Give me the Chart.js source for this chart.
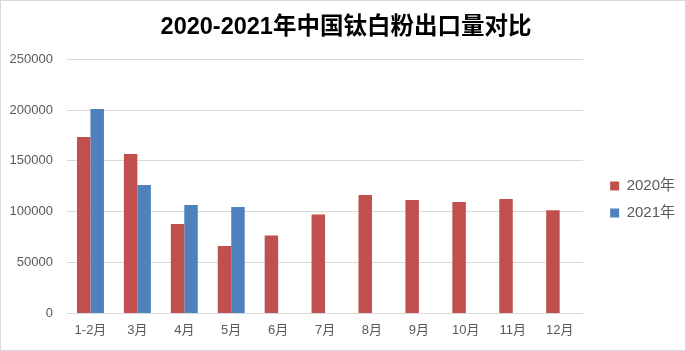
<!DOCTYPE html>
<html>
<head>
<meta charset="utf-8">
<script src="https://cdn.jsdelivr.net/npm/chart.js@4"></script>
<style>
  html, body { margin: 0; padding: 0; background: #fff; }
  #wrap { width: 686px; height: 351px; box-sizing: border-box; border: 1px solid #d9d9d9; }
  canvas { display: block; }
</style>
</head>
<body>
<div id="wrap"><canvas id="exportChart" width="684" height="349"></canvas></div>
<script>
// 2020-2021 钛白粉出口量 (吨)
const months = ["1-2月", "3月", "4月", "5月", "6月", "7月", "8月", "9月", "10月", "11月", "12月"];
const export2020 = [173500, 156800, 87900, 66200, 76600, 97300, 116400, 111500, 109500, 112500, 101500];
const export2021 = [201000, 126300, 106600, 104600, null, null, null, null, null, null, null];
const yTicks = [0, 50000, 100000, 150000, 200000, 250000];

const fontFamily = "'Liberation Sans', 'Noto Sans CJK SC', sans-serif";
const textColor = "#595959";

const ctx = document.getElementById("exportChart").getContext("2d");

new Chart(ctx, {
  type: "bar",
  data: {
    labels: months,
    datasets: [
      {
        label: "2020年",
        data: export2020,
        backgroundColor: "#c0504d",
        categoryPercentage: 0.575,
        barPercentage: 1,
      },
      {
        label: "2021年",
        data: export2021,
        backgroundColor: "#4f81bd",
        categoryPercentage: 0.575,
        barPercentage: 1,
      },
    ],
  },
  options: {
    responsive: false,
    animation: false,
    layout: {
      padding: { left: 6, right: 0, top: 4, bottom: 11 },
    },
    plugins: {
      title: {
        display: true,
        text: "2020-2021年中国钛白粉出口量对比",
        color: "#000",
        font: { family: fontFamily, size: 23.5, weight: "bold" },
        padding: { top: 8, bottom: 18 },
      },
      legend: {
        position: "right",
        title: {
          // empty title just pushes the legend items down a bit
          display: true,
          text: " ",
          font: { size: 1 },
          padding: { top: 54, bottom: 0 },
        },
        labels: {
          color: textColor,
          font: { family: fontFamily, size: 15 },
          boxWidth: 9,
          boxHeight: 9,
          padding: 12,
        },
      },
      tooltip: { enabled: false },
    },
    scales: {
      x: {
        grid: { display: false },
        border: { display: false },
        ticks: {
          color: textColor,
          font: { family: fontFamily, size: 13 },
          padding: 1,
          maxRotation: 0,
        },
      },
      y: {
        min: 0,
        max: 250000,
        afterBuildTicks: (scale) => {
          scale.ticks = yTicks.map((v) => ({ value: v }));
        },
        grid: { color: "#d9d9d9", lineWidth: 1, drawTicks: false },
        border: { display: false },
        ticks: {
          color: textColor,
          font: { family: fontFamily, size: 13 },
          padding: 14,
          callback: (v) => String(v),
        },
        afterFit: (scale) => {
          scale.width = 60;
        },
      },
      gap: {
        // spacer between plot and legend
        position: "right",
        grid: { display: false },
        border: { display: false },
        ticks: { display: false },
        afterFit: (scale) => {
          scale.width = 15;
        },
      },
    },
  },
});
</script>
</body>
</html>
